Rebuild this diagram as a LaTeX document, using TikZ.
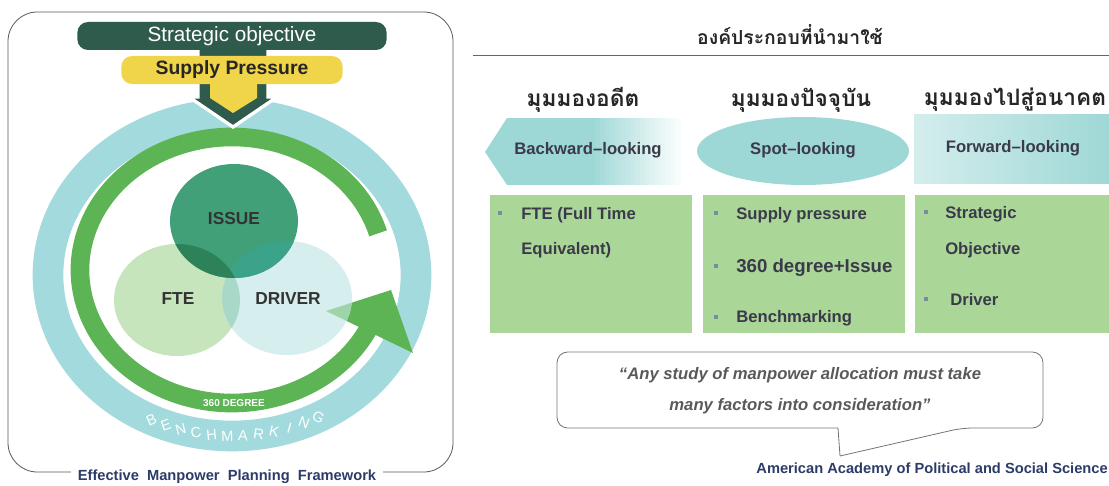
\documentclass[tikz,border=0pt]{standalone}
\usepackage{fontspec}
\setmainfont{Liberation Sans}
\newfontfamily\thaifont[Script=Thai]{Loma}
\usepackage{tikz}
\usetikzlibrary{shapes.geometric, arrows}
\usetikzlibrary{calc,shapes}
\usetikzlibrary{positioning}

\definecolor{darkgreen}{RGB}{46,91,76}
\definecolor{supplyyellow}{RGB}{240,212,74}
\definecolor{ringteal}{RGB}{163,218,221}
\definecolor{arcgreen}{RGB}{92,180,84}
\definecolor{issuegreen}{RGB}{66,160,120}
\definecolor{issuefte}{RGB}{45,130,90}
\definecolor{issuedriver}{RGB}{58,163,138}
\definecolor{ftegreen}{RGB}{198,229,188}
\definecolor{driverteal}{RGB}{214,238,238}
\definecolor{ftedriver}{RGB}{168,216,200}
\definecolor{shapeteal}{RGB}{158,216,214}
\definecolor{boxgreen}{RGB}{170,214,152}
\definecolor{navytext}{RGB}{44,60,104}
\definecolor{boxtext}{RGB}{58,58,74}
\definecolor{bulletgray}{RGB}{120,140,160}

\tikzset{
  barbox/.style={rounded corners=8pt, inner sep=0pt},
  venntext/.style={font=\bfseries\fontsize{13}{15}\selectfont, text=black!80, inner sep=0.75pt},
  lookbox/.style={font=\bfseries\fontsize{12.5}{15}\selectfont, text=boxtext, inner sep=0.75pt},
  itemtext/.style={font=\bfseries\fontsize{12.5}{15}\selectfont, text=boxtext, anchor=west, inner sep=0.75pt},
  bulletmark/.style={rectangle, fill=bulletgray, minimum size=3.5pt, inner sep=0pt},
  heading/.style={font=\thaifont\bfseries\fontsize{17}{20}\selectfont, text=black!85, inner sep=0.75pt},
  benchletter/.style={font=\fontsize{11}{11}\selectfont, text=white, inner sep=0pt}
}

\begin{document}
\begin{tikzpicture}[x=0.75pt,y=0.75pt,yscale=-1,xscale=1]
 \useasboundingbox (0,0) rectangle (1109,485);

 % left frame
 \draw[black!65, line width=0.6pt, rounded corners=22pt] (8,12) rectangle (453,472);

 % rings
 \draw[ringteal, line width=23pt] (232,275) ellipse (184 and 161);
 \draw[arcgreen, line width=14pt] ($(232,270)+(-16:152 and 133)$) arc[start angle=-16, end angle=-338, x radius=152, y radius=133];
 \fill[arcgreen] (326,311) -- (391,290) -- (413,353) -- cycle;

 % down arrow under the bars
 \fill[darkgreen, draw=white, line width=2.5pt] (198,45) -- (268,45) -- (268,97) -- (277,97) -- (233,127) -- (189,97) -- (198,97) -- cycle;
 \node[barbox, fill=darkgreen, text=white, minimum width=232pt, minimum height=21pt, font=\fontsize{15.5}{17}\selectfont] (strategic) at (232,36) {Strategic objective};
 \node[barbox, fill=supplyyellow, text=black!85, minimum width=166pt, minimum height=21pt, font=\bfseries\fontsize{14.5}{16}\selectfont] (supply) at (232,70) {Supply Pressure};
 \fill[supplyyellow] (210,80) -- (257,80) -- (257,98) -- (233,113) -- (210,98) -- cycle;

 % venn circles
 \fill[ftegreen] (177,300) ellipse (63 and 56);
 \fill[driverteal] (287,298) ellipse (65 and 57);
 \begin{scope}
  \clip (177,300) ellipse (63 and 56);
  \fill[ftedriver] (287,298) ellipse (65 and 57);
 \end{scope}
 \begin{scope}
  \clip (287,298) ellipse (65 and 57);
  \fill[arcgreen!45!driverteal] (326,311) -- (391,290) -- (413,353) -- cycle;
 \end{scope}
 \fill[issuegreen] (234,221) ellipse (64 and 57);
 \begin{scope}
  \clip (234,221) ellipse (64 and 57);
  \fill[issuedriver] (287,298) ellipse (65 and 57);
  \fill[issuefte] (177,300) ellipse (63 and 56);
 \end{scope}

 % Label the circles
 \node[venntext] (issue) at (234,219) {ISSUE};
 \node[venntext] (fte) at (178,299) {FTE};
 \node[venntext] (driver) at (288,299) {DRIVER};
 \node[font=\bfseries\fontsize{7.5}{8}\selectfont, text=white, inner sep=0.75pt] (degree) at (234,403) {360 DEGREE};
 \foreach \ch [count=\i] in {B,E,N,C,H,M,A,R,K,I,N,G}{
   \pgfmathsetmacro{\p}{(\i-1)/11}
   \path ($(232,275)+(116:184 and 161)$) arc[start angle=116, end angle=62, x radius=184, y radius=161]
     node[benchletter, sloped, pos=\p] (bench\i) {\ch};
 }
 \node[fill=white, font=\bfseries\fontsize{11}{13}\selectfont, text=navytext, inner xsep=5pt, inner ysep=1pt] (framework) at (227,477) {Effective\ \ Manpower\ \ Planning\ \ Framework};

 % right side
 \draw (790,35) node [inner sep=0.75pt, font=\thaifont\bfseries\fontsize{14.5}{18}\selectfont, text=black!85] (title) {องค์ประกอบที่นำมาใช้};
 \draw[black!60, line width=0.7pt] (473,55) -- (1109,55);
 \draw (583,100) node [heading] (pastview) {มุมมองอดีต};
 \draw (801,100) node [heading] (nowview) {มุมมองปัจจุบัน};
 \draw (1015,100) node [heading] (futureview) {มุมมองไปสู่อนาคต};

 \fill[shapeteal] (507,118) -- (592,118) -- (592,185) -- (507,185) -- (485,152) -- cycle;
 \foreach \k in {0,...,17}{
   \pgfmathsetmacro{\tint}{100-5.5*\k}
   \fill[shapeteal!\tint] ({590+5*\k},118) rectangle ({596+5*\k},185);
 }
 \fill[shapeteal] (803,151) ellipse (106 and 34);
 \fill[left color=shapeteal!45!white, middle color=white, right color=shapeteal] (914,114) rectangle (1109,183);
 \node[lookbox] (backward) at (588,150) {Backward–looking};
 \node[lookbox] (spot) at (803,150) {Spot–looking};
 \node[lookbox] (forward) at (1013,148) {Forward–looking};

 \foreach \xa/\xb in {490/692, 703/905, 915/1109}{
   \fill[boxgreen] (\xa,195) rectangle (\xb,333);
 }
 \node[bulletmark] (bulA) at (500,213) {};
 \node[itemtext] (fteitem) at (520,215) {FTE (Full Time};
 \node[itemtext] (fteitemb) at (520,250) {Equivalent)};
 \node[bulletmark] (bulB) at (716,213) {};
 \node[itemtext] (supplyitem) at (735,215) {Supply pressure};
 \node[bulletmark] (bulC) at (716,266) {};
 \node[itemtext, font=\bfseries\fontsize{14}{16}\selectfont] (degreeitem) at (735,268) {360 degree+Issue};
 \node[bulletmark] (bulD) at (716,317) {};
 \node[itemtext] (benchitem) at (735,318) {Benchmarking};
 \node[bulletmark] (bulE) at (926,212) {};
 \node[itemtext] (stratitem) at (944,214) {Strategic};
 \node[itemtext] (stratitemb) at (944,250) {Objective};
 \node[bulletmark] (bulF) at (926,299) {};
 \node[itemtext] (driveritem) at (949,300) {Driver};

 % quote bubble
 \draw[black!55, line width=0.6pt] (840,456) -- (838,428) [rounded corners=8pt] -- (557,428) -- (557,352) -- (1043,352) -- (1043,428) -- (962,428) [sharp corners] -- (840,456);
 \node[align=center, font=\bfseries\itshape\fontsize{12.5}{23}\selectfont, text=black!65] (quote) at (800,391) {“Any study of manpower allocation must take\\many factors into consideration”};
 \node[anchor=east, font=\bfseries\fontsize{11}{13}\selectfont, text=navytext, inner sep=0.75pt] (source) at (1109,470) {American Academy of Political and Social Science};
\end{tikzpicture}
\end{document}
